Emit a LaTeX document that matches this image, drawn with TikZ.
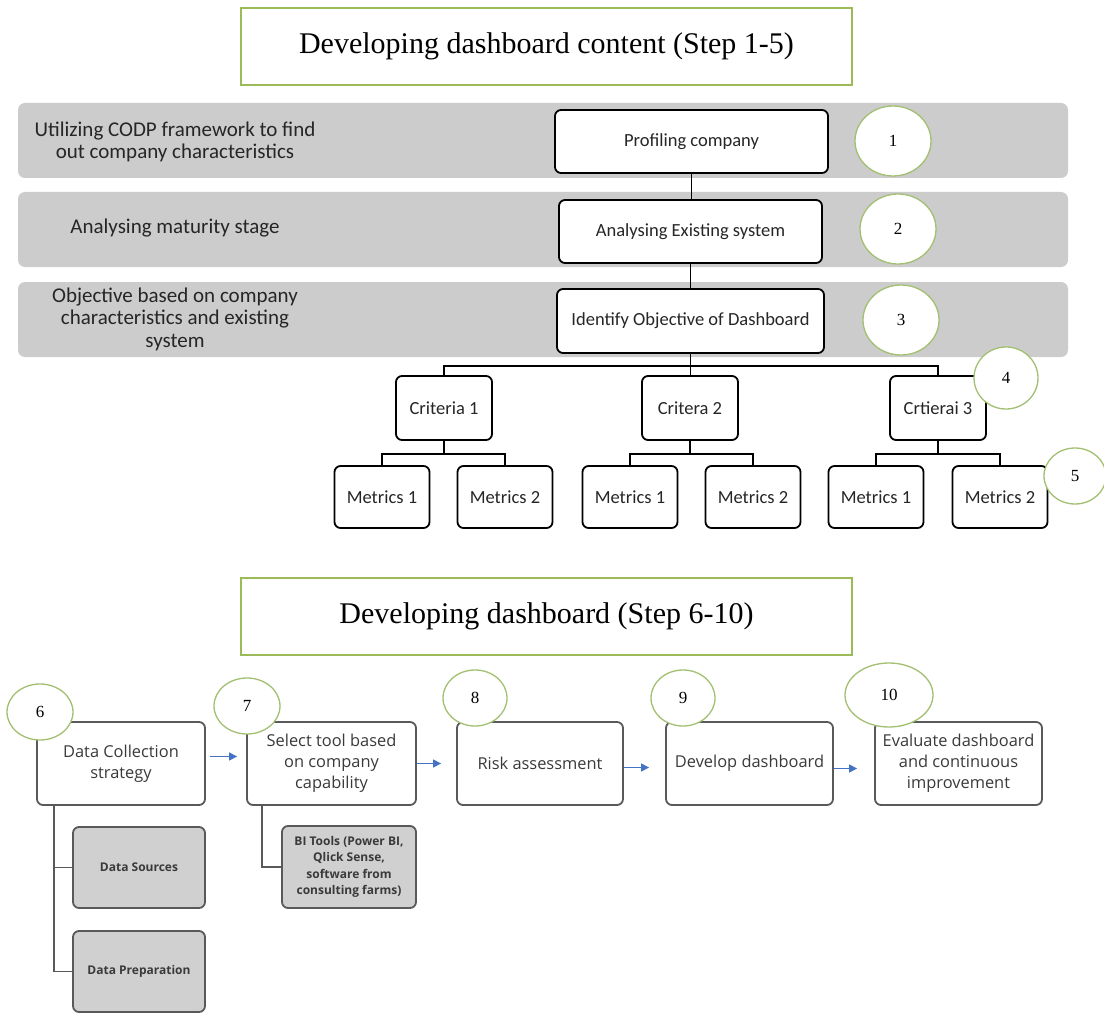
\documentclass[tikz,border=0pt]{standalone}
\usepackage{fontspec}
\setmainfont{Liberation Serif}
\newfontfamily\calfont{Carlito}
\newfontfamily\osfont{Open Sans}
\usetikzlibrary{shapes.geometric,arrows.meta}
\definecolor{bandgray}{HTML}{CCCCCC}
\definecolor{subgray}{HTML}{D0D0D0}
\definecolor{titlegreen}{HTML}{9BBB59}
\definecolor{circgreen}{HTML}{A3BF72}
\definecolor{stepgray}{HTML}{595959}
\definecolor{arrowblue}{HTML}{4472C4}
\definecolor{inktext}{HTML}{262626}
\definecolor{steptext}{HTML}{3A3A3A}
\begin{document}
\begin{tikzpicture}[x=1pt,y=-1pt,
  band/.style={fill=bandgray, draw=none, rounded corners=7pt},
  headbox/.style={draw=titlegreen, line width=1.3pt, fill=white, inner sep=0,
    minimum width=611pt, minimum height=77pt, font=\fontsize{30}{34}\selectfont},
  topbox/.style={draw=black, line width=1.8pt, rounded corners=6pt, fill=white,
    inner sep=0, text=inktext, font=\calfont\fontsize{18.5}{22}\selectfont,
    minimum height=63pt},
  critbox/.style={topbox, minimum width=96pt, minimum height=64pt},
  metbox/.style={topbox, minimum width=95pt, minimum height=62pt},
  numcirc/.style={ellipse, draw=circgreen, line width=1.3pt, fill=white,
    inner sep=0, font=\fontsize{17}{20}\selectfont},
  sidetext/.style={align=center, text=inktext,
    font=\calfont\fontsize{21}{22.5}\selectfont},
  stepbox/.style={draw=stepgray, line width=1.8pt, rounded corners=6pt,
    fill=white, inner sep=0, minimum width=167pt, minimum height=83pt,
    align=center, text=steptext, font=\osfont\fontsize{16.4}{21}\selectfont},
  subbox/.style={draw=stepgray, line width=1.8pt, rounded corners=6pt,
    fill=subgray, inner sep=0, minimum width=132pt, minimum height=81pt,
    align=center, text=steptext, font=\osfont\bfseries\fontsize{12}{16.5}\selectfont},
  flow/.style={draw=arrowblue, line width=1.2pt, -{Triangle[length=8pt,width=8pt]}},
  link/.style={draw=black, line width=1.8pt},
  steplink/.style={draw=stepgray, line width=1.8pt}]

\useasboundingbox (0,0) rectangle (1104,1014);
\fill[white] (0,0) rectangle (1104,1014);

% ---------- Steps 1-5 ----------
\node[headbox] (head1) at (546.5,46.5) {Developing dashboard content (Step 1-5)};

\fill[band] (18,103) rectangle (1068,178);
\fill[band] (18,192) rectangle (1068,267);
\fill[band] (18,282) rectangle (1068,357);

\node[sidetext] (side1) at (175,142) {Utilizing CODP framework to find\\out company characteristics};
\node[sidetext] (side2) at (175,228) {Analysing maturity stage};
\node[sidetext] (side3) at (175,319) {Objective based on company\\characteristics and existing\\system};

\node[topbox, minimum width=273pt] (p1) at (691.5,141.5) {Profiling company};
\node[topbox, minimum width=263pt] (p2) at (690.5,231.5) {Analysing Existing system};
\node[topbox, minimum width=267pt, minimum height=64pt] (p3) at (690.5,321) {Identify Objective of Dashboard};

\draw[link] (p1.south) -- (p1.south |- p2.north);
\draw[link] (p2.south) -- (p2.south |- p3.north);

\node[critbox] (cr1) at (444,408) {Criteria 1};
\node[critbox] (cr2) at (690,408) {Critera 2};
\node[critbox] (cr3) at (938,408) {Crtierai 3};

\draw[link] (p3.south) -- ++(0,12) -| (cr1.north);
\draw[link] (p3.south) -- ++(0,12) -| (cr3.north);
\draw[link] (p3.south) -- (p3.south |- cr2.north);

\node[metbox] (m11) at (382,497) {Metrics 1};
\node[metbox] (m12) at (505,497) {Metrics 2};
\node[metbox] (m21) at (630,497) {Metrics 1};
\node[metbox] (m22) at (753,497) {Metrics 2};
\node[metbox] (m31) at (876,497) {Metrics 1};
\node[metbox] (m32) at (1000,497) {Metrics 2};

\foreach \c/\a/\b in {cr1/m11/m12, cr2/m21/m22, cr3/m31/m32}{
  \draw[link] (\c.south) -- ++(0,13) -| (\a.north);
  \draw[link] (\c.south) -- ++(0,13) -| (\b.north);
}

\node[numcirc, minimum width=76pt, minimum height=70pt] (n1) at (893,141) {1};
\node[numcirc, minimum width=76pt, minimum height=70pt] (n2) at (898,229) {2};
\node[numcirc, minimum width=76pt, minimum height=70pt] (n3) at (901,320) {3};
\node[numcirc, minimum width=64pt, minimum height=62pt] (n4) at (1006,378) {4};
\node[numcirc, minimum width=62pt, minimum height=56pt] (n5) at (1075,476) {5};

% ---------- Steps 6-10 ----------
\node[headbox] (head2) at (546.5,616.5) {Developing dashboard (Step 6-10)};

\node[stepbox, minimum width=168pt] (b6) at (121,763.5) {Data Collection\\strategy};
\node[stepbox, minimum width=169pt] (b7) at (331.5,763.5) {Select tool based\\on company\\capability};
\node[stepbox, minimum width=166pt] (b8) at (540,763.5) {Risk assessment};
\node[stepbox] (b9) at (749.5,763.5) {Develop dashboard};
\node[stepbox] (b10) at (958.5,763.5) {Evaluate dashboard\\and continuous\\improvement};

\node[subbox] (ds) at (139,867.5) {Data Sources};
\node[subbox] (dp) at (139,971.5) {Data Preparation};
\node[subbox, minimum width=134pt, minimum height=82pt] (bi) at (349,867) {BI Tools (Power BI,\\Qlick Sense,\\software from\\consulting farms)};

\draw[steplink] ([xshift=18pt]b6.south west) |- (ds.west);
\draw[steplink] ([xshift=18pt]b6.south west) |- (dp.west);
\draw[steplink] ([xshift=16pt]b7.south west) |- (bi.west);

\draw[flow, shorten <=4pt, shorten >=9pt] ([yshift=7pt]b6.east) -- ([yshift=7pt]b7.west);
\draw[flow, shorten >=15pt] (b7.east) -- (b8.west);
\draw[flow, shorten >=16pt] ([yshift=-4pt]b8.east) -- ([yshift=-4pt]b9.west);
\draw[flow, shorten >=17pt] ([yshift=-5pt]b9.east) -- ([yshift=-5pt]b10.west);

\node[numcirc, minimum width=66pt, minimum height=56pt] (n6) at (40,712) {6};
\node[numcirc, minimum width=66pt, minimum height=56pt] (n7) at (247,706) {7};
\node[numcirc, minimum width=64pt, minimum height=56pt] (n8) at (475,698) {8};
\node[numcirc, minimum width=64pt, minimum height=56pt] (n9) at (683,698) {9};
\node[numcirc, minimum width=88pt, minimum height=64pt] (n10) at (889,695) {10};
\end{tikzpicture}
\end{document}
